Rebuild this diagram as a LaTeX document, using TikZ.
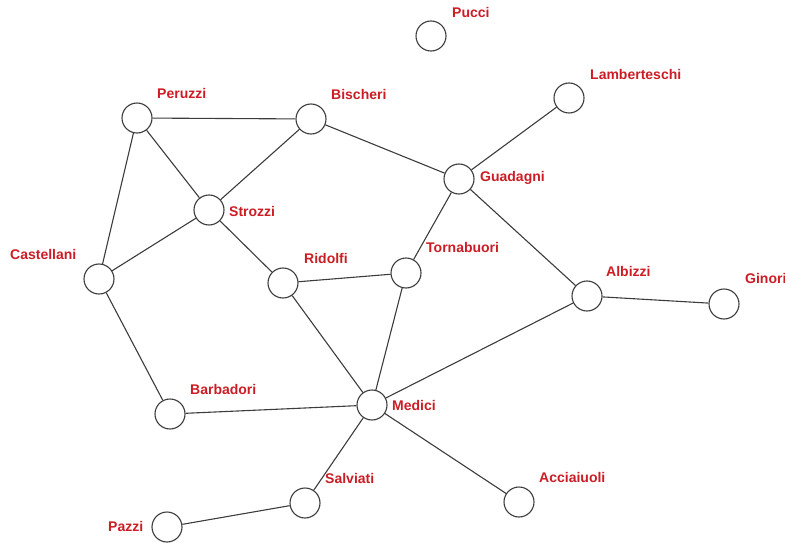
\documentclass[tikz,border=0pt]{standalone}
\usepackage{fontspec}
\setmainfont{Liberation Sans}
\definecolor{lblred}{RGB}{204,28,36}
\definecolor{edgegray}{RGB}{60,60,60}
\begin{document}
\begin{tikzpicture}[x=1pt,y=-1pt,
  vtx/.style={circle,draw=edgegray,line width=1.1pt,fill=white,minimum size=30pt,inner sep=0pt},
  lbl/.style={anchor=west,inner sep=0pt,text=lblred,font=\fontsize{14}{16}\selectfont\bfseries},
  edge/.style={draw=edgegray,line width=1.1pt}]
\useasboundingbox (0,0) rectangle (785,543);
\node[vtx] (pucci) at (431,36) {};
\node[vtx] (lamb) at (569,98) {};
\node[vtx] (peru) at (137,118) {};
\node[vtx] (bisc) at (311,119) {};
\node[vtx] (guad) at (459,179) {};
\node[vtx] (stro) at (209,210) {};
\node[vtx] (cast) at (99,279) {};
\node[vtx] (ridi) at (283,283) {};
\node[vtx] (torn) at (406,273) {};
\node[vtx] (albi) at (587,296) {};
\node[vtx] (gino) at (724,304) {};
\node[vtx] (barb) at (170,414) {};
\node[vtx] (medi) at (372,405) {};
\node[vtx] (salv) at (305,503) {};
\node[vtx] (acci) at (519,502) {};
\node[vtx] (pazz) at (167,527) {};

\node[lbl] (lpucci) at (452,12) {Pucci};
\node[lbl] (llamb) at (590,74) {Lamberteschi};
\node[lbl] (lperu) at (157,93) {Peruzzi};
\node[lbl] (lbisc) at (331,94) {Bischeri};
\node[lbl] (lguad) at (480,178) {Guadagni};
\node[lbl] (lstro) at (229,211) {Strozzi};
\node[lbl] (lcast) at (10,254) {Castellani};
\node[lbl] (lridi) at (304,258) {Ridolfi};
\node[lbl] (ltorn) at (426,247) {Tornabuori};
\node[lbl] (lalbi) at (606,271) {Albizzi};
\node[lbl] (lgino) at (745,278) {Ginori};
\node[lbl] (lbarb) at (190,389) {Barbadori};
\node[lbl] (lmedi) at (392,405) {Medici};
\node[lbl] (lsalv) at (325,478) {Salviati};
\node[lbl] (lacci) at (539,477) {Acciaiuoli};
\node[lbl] (lpazz) at (108,526) {Pazzi};

\path[edge] (peru) -- (bisc);
\path[edge] (peru) -- (stro);
\path[edge] (peru) -- (cast);
\path[edge] (bisc) -- (stro);
\path[edge] (bisc) -- (guad);
\path[edge] (lamb) -- (guad);
\path[edge] (guad) -- (torn);
\path[edge] (guad) -- (albi);
\path[edge] (stro) -- (cast);
\path[edge] (stro) -- (ridi);
\path[edge] (cast) -- (barb);
\path[edge] (ridi) -- (torn);
\path[edge] (ridi) -- (medi);
\path[edge] (torn) -- (medi);
\path[edge] (albi) -- (gino);
\path[edge] (albi) -- (medi);
\path[edge] (barb) -- (medi);
\path[edge] (medi) -- (salv);
\path[edge] (medi) -- (acci);
\path[edge] (salv) -- (pazz);
\end{tikzpicture}
\end{document}
